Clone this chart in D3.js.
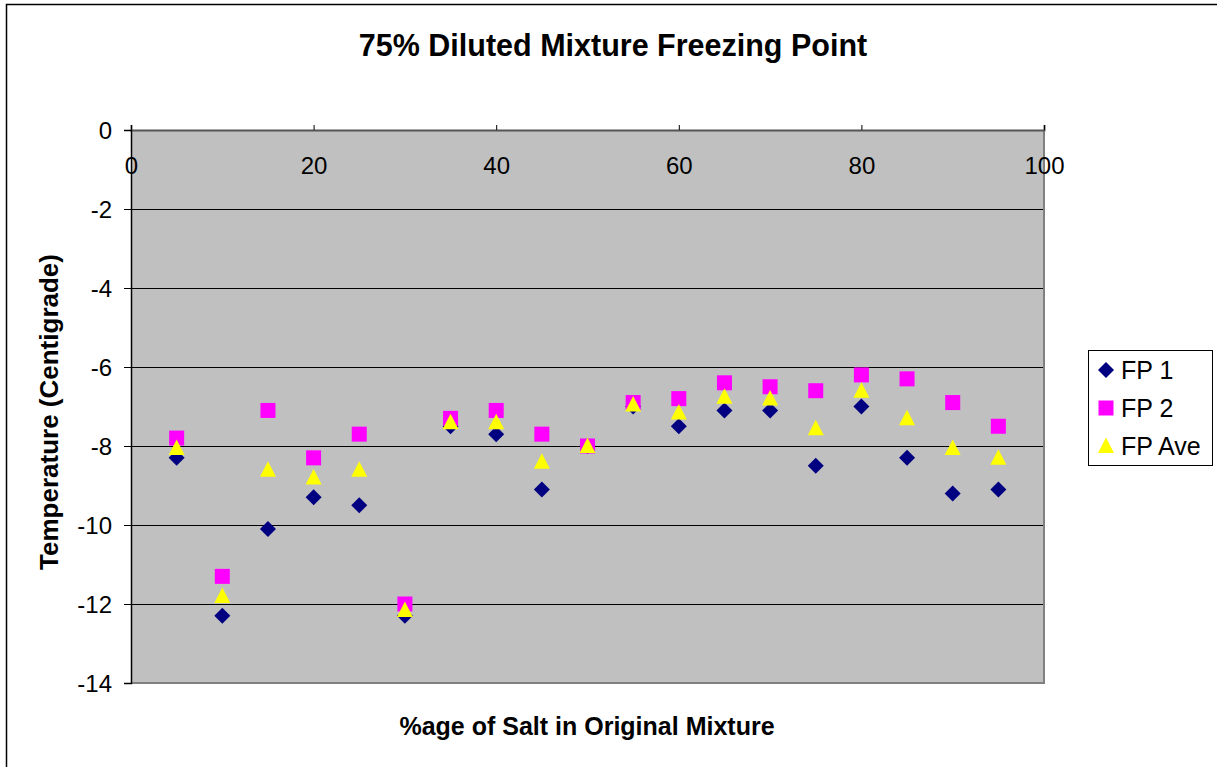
<!DOCTYPE html>
<html><head><meta charset="utf-8">
<script src="https://cdn.jsdelivr.net/npm/d3@7"></script>
<style>body{margin:0;background:#fff}svg{display:block;font-family:"Liberation Sans",Arial,sans-serif}</style>
</head><body><svg id="c" width="1217" height="767"></svg>
<script>
const xValues = [5,10,15,20,25,30,35,40,45,50,55,60,65,70,75,80,85,90,95];
const fp1 = [-8.3,-12.3,-10.1,-9.3,-9.5,-12.3,-7.5,-7.7,-9.1,-8.0,-7.0,-7.5,-7.1,-7.1,-8.5,-7.0,-8.3,-9.2,-9.1];
const fp2 = [-7.8,-11.3,-7.1,-8.3,-7.7,-12.0,-7.3,-7.1,-7.7,-8.0,-6.9,-6.8,-6.4,-6.5,-6.6,-6.2,-6.3,-6.9,-7.5];
const fpAve = [-8.05,-11.8,-8.6,-8.8,-8.6,-12.15,-7.4,-7.4,-8.4,-8.0,-6.95,-7.15,-6.75,-6.8,-7.55,-6.6,-7.3,-8.05,-8.3];
const xTicks = [0,20,40,60,80,100];
const yTicks = [0,-2,-4,-6,-8,-10,-12,-14];
const seriesNames = ["FP 1","FP 2","FP Ave"];

const FONT = "Liberation Sans, Arial, sans-serif";
const svg = d3.select("#c");
const L=131, T=130, R=1044, B=683;
const x = d3.scaleLinear().domain([0,100]).range([L,R]);
const y = d3.scaleLinear().domain([0,-14]).range([T,B]);

// outer border
svg.append("rect").attr("x",6.5).attr("y",4.5).attr("width",1240).attr("height",800)
  .attr("fill","none").attr("stroke","#000").attr("stroke-width",1.5);

// plot area
svg.append("rect").attr("x",L).attr("y",T).attr("width",R-L).attr("height",B-T).attr("fill","#C0C0C0");
// gridlines
svg.append("g").selectAll("line").data(yTicks.filter(d=>d!==0 && d!==-14)).join("line")
  .attr("x1",L).attr("x2",R).attr("y1",d=>y(d)+0.5).attr("y2",d=>y(d)+0.5)
  .attr("stroke","#000").attr("stroke-width",1);
// plot border right/bottom gray
svg.append("line").attr("x1",R).attr("x2",R).attr("y1",T).attr("y2",B+1).attr("stroke","#808080").attr("stroke-width",2);
svg.append("line").attr("x1",L).attr("x2",R+1).attr("y1",B).attr("y2",B).attr("stroke","#808080").attr("stroke-width",2);

// x axis at top
const xAxis = d3.axisTop(x).tickValues(xTicks).tickSize(5).tickFormat(d3.format("d"));
const gx = svg.append("g").attr("transform",`translate(0,${T})`).call(xAxis);
gx.select(".domain").attr("stroke","#555").attr("stroke-width",2);
gx.selectAll(".tick line").attr("stroke","#000");
gx.selectAll(".tick text").attr("y",36).attr("dy","0.35em").attr("font-size",24).attr("fill","#000")
  .attr("font-family",FONT);

// y axis
const yAxis = d3.axisLeft(y).tickValues(yTicks).tickSize(7).tickFormat(d3.format("d"));
const gy = svg.append("g").attr("transform",`translate(${L},0)`).call(yAxis);
gy.select(".domain").attr("stroke","#000").attr("stroke-width",1.5);
gy.selectAll(".tick line").attr("stroke","#000");
gy.selectAll(".tick text").attr("x",-19).attr("dy","0.35em").attr("font-size",24).attr("fill","#000")
  .attr("font-family",FONT).text(d=>d<0?"-"+Math.abs(d):d);

function drawDiamond(g, cx, cy){
  g.append("path").attr("d",`M${cx},${cy-8}L${cx+8},${cy}L${cx},${cy+8}L${cx-8},${cy}Z`).attr("fill","#000080");
}
function drawSquare(g, cx, cy){
  g.append("rect").attr("x",cx-7.5).attr("y",cy-7.5).attr("width",15).attr("height",15).attr("fill","#FF00FF");
}
function drawTri(g, cx, cy){
  g.append("path").attr("d",`M${cx},${cy-8.5}L${cx+8},${cy+7}L${cx-8},${cy+7}Z`).attr("fill","#FFFF00");
}
const g1 = svg.append("g"), g2 = svg.append("g"), g3 = svg.append("g");
g1.selectAll("path").data(xValues.map((v,i)=>[v,fp1[i]])).join("path")
  .attr("d",d=>{const cx=x(d[0]),cy=y(d[1]);return `M${cx},${cy-8}L${cx+8},${cy}L${cx},${cy+8}L${cx-8},${cy}Z`;}).attr("fill","#000080");
g2.selectAll("rect").data(xValues.map((v,i)=>[v,fp2[i]])).join("rect")
  .attr("x",d=>x(d[0])-7.5).attr("y",d=>y(d[1])-7.5).attr("width",15).attr("height",15).attr("fill","#FF00FF");
g3.selectAll("path").data(xValues.map((v,i)=>[v,fpAve[i]])).join("path")
  .attr("d",d=>{const cx=x(d[0]),cy=y(d[1]);return `M${cx},${cy-8.5}L${cx+8},${cy+7}L${cx-8},${cy+7}Z`;}).attr("fill","#FFFF00");

// title
svg.append("text").attr("x",613).attr("y",56).attr("text-anchor","middle").attr("font-size",30.5)
  .attr("font-weight","bold").text("75% Diluted Mixture Freezing Point");
// axis titles
svg.append("text").attr("x",587).attr("y",735).attr("text-anchor","middle").attr("font-size",25)
  .attr("font-weight","bold").text("%age of Salt in Original Mixture");
svg.append("text").attr("transform","translate(58,412) rotate(-90)").attr("text-anchor","middle").attr("font-size",26)
  .attr("font-weight","bold").text("Temperature (Centigrade)");

// legend
const lg = svg.append("g");
lg.append("rect").attr("x",1088.5).attr("y",350.5).attr("width",124).attr("height",115).attr("fill","#fff").attr("stroke","#000").attr("stroke-width",1);
const ly = [370,408,446];
drawDiamond(lg,1106,ly[0]);
drawSquare(lg,1106,ly[1]);
drawTri(lg,1106,ly[2]);
lg.selectAll("text").data(seriesNames).join("text").attr("x",1121).attr("y",(d,i)=>ly[i]).attr("dy","0.35em")
  .attr("font-size",25).text(d=>d);
</script></body></html>
